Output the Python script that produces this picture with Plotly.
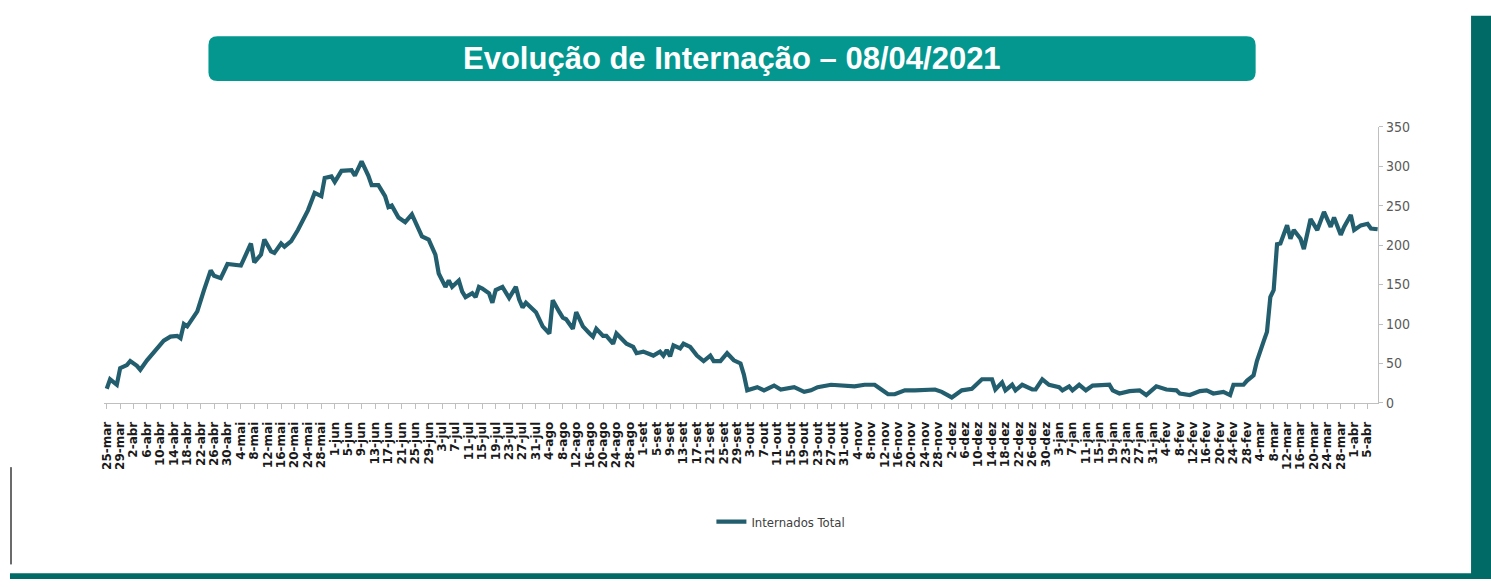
import plotly.graph_objects as go

# ---------------- data ----------------
# day offsets counted from 25-mar-2020 (day 0) and the number of inpatients
days_mar_mai = [0, 1, 3, 4, 6, 7, 9, 10, 12, 15, 17, 19, 21, 22, 23, 24, 27, 29, 31, 32,
                34, 36, 40, 43, 44, 46, 47, 49, 50, 52, 53, 55, 57, 60, 62, 64, 65, 67, 68, 70,
                73, 74]
vals_mar_mai = [18, 30, 23, 44, 48, 53, 47, 42, 54, 69, 79, 84, 85, 82, 100, 97, 116, 143, 168, 161,
                158, 176, 174, 202, 178, 188, 207, 192, 190, 202, 198, 205, 219, 244, 266, 262, 285, 287, 280, 294,
                295, 288]

days_jun_set = [76, 78, 79, 81, 83, 84, 85, 87, 89, 91, 92, 94, 96, 98, 99, 101, 102, 103, 105, 106,
                107, 109, 110, 111, 112, 114, 115, 116, 118, 120, 122, 123, 124, 125, 128, 130, 132, 133, 135, 136,
                137, 139, 140, 142, 144, 145, 146, 148, 149, 151, 152, 155, 157, 158, 160, 163, 165, 166, 167, 168,
                169, 171, 172, 174, 176, 178, 180, 181, 183, 185, 187, 189, 190]
vals_jun_set = [306, 288, 276, 276, 262, 248, 250, 235, 229, 239, 229, 211, 207, 188, 164, 147, 155, 147, 155, 141,
                134, 139, 134, 147, 145, 139, 127, 143, 147, 133, 147, 131, 121, 127, 115, 97, 88, 130, 115, 108,
                106, 94, 115, 97, 88, 84, 94, 85, 85, 75, 88, 75, 71, 63, 65, 60, 65, 60, 67, 59,
                73, 69, 75, 71, 60, 53, 60, 53, 53, 63, 54, 50, 36]

days_out_fev = [191, 194, 196, 199, 201, 205, 208, 210, 212, 216, 219, 223, 226, 229, 231, 233, 235, 238, 241, 244,
                247, 249, 252, 255, 258, 261, 264, 265, 267, 268, 270, 271, 273, 276, 277, 279, 281, 284, 285, 287,
                288, 290, 292, 294, 297, 299, 300, 302, 305, 308, 310, 313, 316, 319, 320, 323, 326, 328, 330, 333,
                335]
vals_out_fev = [16, 20, 16, 22, 17, 20, 14, 16, 20, 23, 22, 21, 23, 23, 17, 11, 11, 16, 16, 16,
                17, 14, 7, 16, 18, 30, 30, 17, 26, 16, 23, 16, 23, 17, 17, 30, 23, 20, 16, 21,
                16, 23, 16, 22, 23, 23, 16, 12, 15, 16, 10, 21, 17, 16, 12, 10, 15, 16, 12, 14,
                10]

days_mar_abr = [336, 339, 340, 342, 343, 345, 346, 347, 348, 349, 350, 352, 353, 354, 356, 357, 359, 361, 363, 365,
                366, 368, 369, 371, 372, 374, 376, 377, 379]
vals_mar_abr = [23, 23, 28, 35, 53, 78, 90, 134, 143, 201, 202, 225, 208, 219, 208, 195, 233, 219, 242, 223,
                235, 213, 223, 238, 219, 225, 227, 221, 220]

tick_labels = [
    "25-mar", "29-mar", "2-abr", "6-abr", "10-abr", "14-abr", "18-abr", "22-abr", "26-abr", "30-abr",
    "4-mai", "8-mai", "12-mai", "16-mai", "20-mai", "24-mai", "28-mai",
    "1-jun", "5-jun", "9-jun", "13-jun", "17-jun", "21-jun", "25-jun", "29-jun",
    "3-jul", "7-jul", "11-jul", "15-jul", "19-jul", "23-jul", "27-jul", "31-jul",
    "4-ago", "8-ago", "12-ago", "16-ago", "20-ago", "24-ago", "28-ago",
    "1-set", "5-set", "9-set", "13-set", "17-set", "21-set", "25-set", "29-set",
    "3-out", "7-out", "11-out", "15-out", "19-out", "23-out", "27-out", "31-out",
    "4-nov", "8-nov", "12-nov", "16-nov", "20-nov", "24-nov", "28-nov",
    "2-dez", "6-dez", "10-dez", "14-dez", "18-dez", "22-dez", "26-dez", "30-dez",
    "3-jan", "7-jan", "11-jan", "15-jan", "19-jan", "23-jan", "27-jan", "31-jan",
    "4-fev", "8-fev", "12-fev", "16-fev", "20-fev", "24-fev", "28-fev",
    "4-mar", "8-mar", "12-mar", "16-mar", "20-mar", "24-mar", "28-mar",
    "1-abr", "5-abr",
]
tick_step_days = 4
y_ticks = [0, 50, 100, 150, 200, 250, 300, 350]

series_name = "Internados Total"
title_text = "Evolução de Internação – 08/04/2021"

# ---------------- figure ----------------
W, H = 1491, 587
LINE = "#235E6E"
TEAL = "#03978F"
DARK_TEAL = "#006B66"
AXIS = "#BFBFBF"
NARROW = "Liberation Sans Narrow, Arial Narrow, DejaVu Sans Condensed, sans-serif"

days = days_mar_mai + days_jun_set + days_out_fev + days_mar_abr
vals = vals_mar_mai + vals_jun_set + vals_out_fev + vals_mar_abr

fig = go.Figure()
fig.add_trace(go.Scatter(
    x=days, y=vals, mode="lines", name=series_name,
    line=dict(color=LINE, width=4.2),
    hoverinfo="x+y",
))


def px_x(p):
    return p / W


def px_y(p):
    return 1 - p / H


shapes = []
# title box with rounded corners
x0, x1, y0, y1 = px_x(205), px_x(1255), px_y(75), px_y(29)
rx, ry = 9 / W, 9 / H
path = (f"M {x0+rx} {y0} L {x1-rx} {y0} Q {x1} {y0} {x1} {y0+ry} "
        f"L {x1} {y1-ry} Q {x1} {y1} {x1-rx} {y1} L {x0+rx} {y1} "
        f"Q {x0} {y1} {x0} {y1-ry} L {x0} {y0+ry} Q {x0} {y0} {x0+rx} {y0} Z")
shapes.append(dict(type="path", xref="paper", yref="paper", path=path,
                   fillcolor=TEAL, line=dict(width=0), layer="below"))
# right dark bar
shapes.append(dict(type="rect", xref="paper", yref="paper",
                   x0=px_x(1471), x1=1.0, y0=0, y1=px_y(8),
                   fillcolor=DARK_TEAL, line=dict(width=0)))
# bottom dark bar
shapes.append(dict(type="rect", xref="paper", yref="paper",
                   x0=px_x(6), x1=1.0, y0=0, y1=px_y(581),
                   fillcolor=DARK_TEAL, line=dict(width=0)))
# faint left rule
shapes.append(dict(type="line", xref="paper", yref="paper",
                   x0=px_x(7), x1=px_x(7), y0=px_y(472), y1=px_y(572),
                   line=dict(color="#6b6b6b", width=2)))

fig.update_layout(
    width=W, height=H,
    autosize=False,
    margin=dict(l=0, r=0, t=0, b=0),
    paper_bgcolor="white", plot_bgcolor="white",
    showlegend=True,
    legend=dict(orientation="h", x=px_x(779), y=px_y(528), xanchor="center", yanchor="middle",
                font=dict(family=NARROW, size=13, color="#404040"),
                bgcolor="rgba(0,0,0,0)", itemwidth=30),
    shapes=shapes,
    annotations=[dict(
        text=title_text, xref="paper", yref="paper",
        x=px_x(730), y=px_y(52), xanchor="center", yanchor="middle", showarrow=False,
        font=dict(family="Liberation Sans, Arial, sans-serif", size=31, color="white", weight="bold"),
    )],
    xaxis=dict(
        domain=[px_x(100), px_x(1378)],
        range=[-0.9, 379.2],
        tickmode="array",
        tickvals=[i * tick_step_days for i in range(len(tick_labels))],
        ticktext=tick_labels,
        tickangle=-90,
        tickfont=dict(family="DejaVu Sans, sans-serif", size=12, color="#1a1a1a", weight="bold"),
        showline=True, linecolor=AXIS, linewidth=1,
        ticks="outside", ticklen=5, tickcolor=AXIS,
        ticklabelstandoff=8,
        showgrid=False, zeroline=False,
    ),
    yaxis=dict(
        domain=[px_y(406), px_y(122)],
        range=[0, 350],
        side="right",
        tickmode="array", tickvals=y_ticks,
        tickfont=dict(family=NARROW, size=14, color="#595959"),
        showline=True, linecolor=AXIS, linewidth=1,
        ticks="outside", ticklen=4, tickcolor=AXIS,
        showgrid=False, zeroline=False,
    ),
)

fig.write_html(
    "out.html",
    config={"responsive": False, "displayModeBar": False},
    post_script="document.body.style.margin='0';document.body.style.padding='0';"
                "document.body.style.overflow='hidden';",
)
